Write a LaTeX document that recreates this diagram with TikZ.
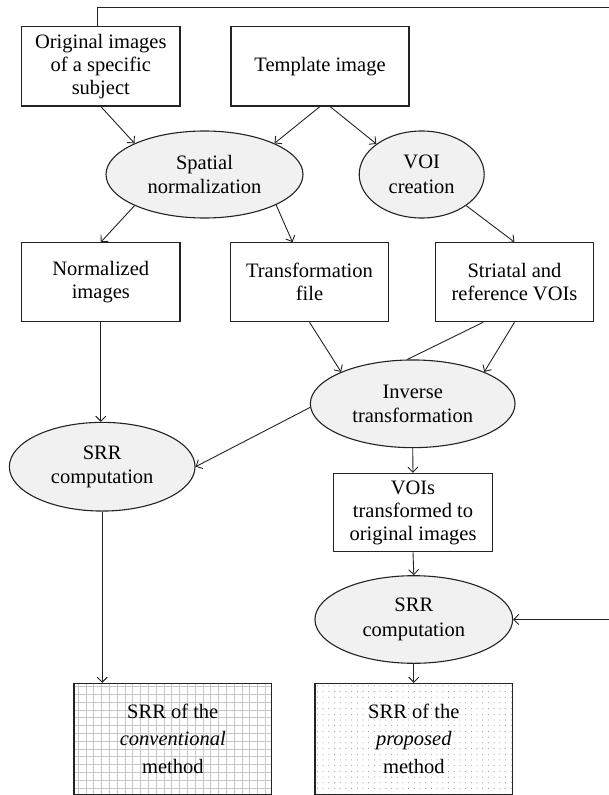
\documentclass[tikz,border=0pt]{standalone}
\usepackage{fontspec}
\setmainfont{Liberation Serif}
\usetikzlibrary{shapes.geometric,arrows.meta,calc,backgrounds}
\definecolor{ellfill}{RGB}{240,241,240}
\definecolor{lin}{RGB}{35,35,35}
\definecolor{gridc}{RGB}{200,200,200}
\definecolor{dotc}{RGB}{150,150,150}
\begin{document}
\begin{tikzpicture}[x=1pt,y=-1pt,
  box/.style={draw=lin,line width=1.1pt,rectangle,inner sep=0pt,align=center,
    font=\fontsize{20.5}{23}\selectfont},
  bigbox/.style={box,minimum width=197.7pt,minimum height=110.7pt,
    font=\fontsize{20.5}{27.5}\selectfont},
  ell/.style={draw=lin,line width=1.1pt,ellipse,fill=ellfill,inner sep=0pt,align=center,
    font=\fontsize{20.5}{24.5}\selectfont},
  arr/.style={draw=lin,line width=0.9pt,-{Straight Barb[length=5pt,width=10pt]}},
  ln/.style={draw=lin,line width=0.9pt}]
\useasboundingbox (0,0) rectangle (608,795);

% boxes
\node[box,minimum width=158.3pt,minimum height=79.3pt] (orig) at (100.8,66.3) {Original images\\of a specific\\subject};
\node[box,minimum width=178pt,minimum height=79.3pt] (templ) at (320,66.3) {Template image};
\node[box,minimum width=158.3pt,minimum height=79pt] (norm) at (100.8,282.2) {Normalized\\images};
\node[box,minimum width=157.6pt,minimum height=79pt] (trans) at (309.5,282.2) {Transformation\\file};
\node[box,minimum width=157.6pt,minimum height=79pt] (striat) at (514.5,282.2) {Striatal and\\reference VOIs};
\node[box,minimum width=159pt,minimum height=78.4pt] (vois) at (413,512.5) {VOIs\\transformed to\\original images};
\node[bigbox] (conv) at (172.8,738.7) {SRR of the\\\textit{conventional}\\method};
\node[bigbox] (prop) at (413.8,738.7) {SRR of the\\\textit{proposed}\\method};

% ellipses
\node[ell,minimum width=197pt,minimum height=87pt] (spat) at (204.5,174.5) {Spatial\\normalization};
\node[ell,minimum width=125pt,minimum height=87pt] (voi) at (421.7,174.5) {VOI\\creation};
\node[ell,minimum width=204.7pt,minimum height=87.7pt] (inv) at (412.7,403.8) {Inverse\\transformation};
\node[ell,minimum width=185.7pt,minimum height=88.7pt] (srrL) at (102.2,466.7) {SRR\\computation};
\node[ell,minimum width=197.7pt,minimum height=87.6pt] (srrR) at (413.8,619.5) {SRR\\computation};

% fill patterns
\begin{scope}[on background layer]
  \begin{scope}
    \clip (conv.south west) rectangle (conv.north east);
    \draw[gridc,line width=0.6pt] (conv.south west) grid[step=7.8pt] (conv.north east);
  \end{scope}
  \begin{scope}
    \clip (prop.south west) rectangle (prop.north east);
    \foreach \i in {0,...,34}{
      \foreach \j in {0,...,19}{
        \fill[dotc] ($(prop.north west)+(3+\i*5.7,3+\j*5.7)$) circle (0.55pt);
      }
    }
  \end{scope}
\end{scope}

% connectors
\draw[arr] (orig.south) -- (spat.156);
\draw[arr] (templ.south) -- (spat.24);
\draw[arr] (templ.284) -- (voi.146);
\draw[arr] (spat.204) -- (norm.north);
\draw[arr] (spat.337) -- (trans.113);
\draw[arr] (voi.325) -- (striat.north);
\draw[arr] (norm.south) -- (norm.south |- srrL.north);
\draw[arr] (trans.south) -- (inv.156);
\draw[arr] (striat.south) -- (inv.24);
\draw[ln] (striat.232) -- (inv.97);
\draw[arr] (inv.182) -- (srrL.east);
\draw[arr] (inv.south) -- (vois.north);
\draw[arr] (vois.south) -- (srrR.north);
\draw[arr] (srrL.south) -- (srrL.south |- conv.north);
\draw[arr] (srrR.south) -- (prop.north);
\coordinate (tr) at (609,7);
\coordinate (br) at (609,619.5);
\draw[arr] ($(orig.north)+(-3.5,0)$) |- (tr) -- (br) -- (srrR.east);
\end{tikzpicture}
\end{document}
